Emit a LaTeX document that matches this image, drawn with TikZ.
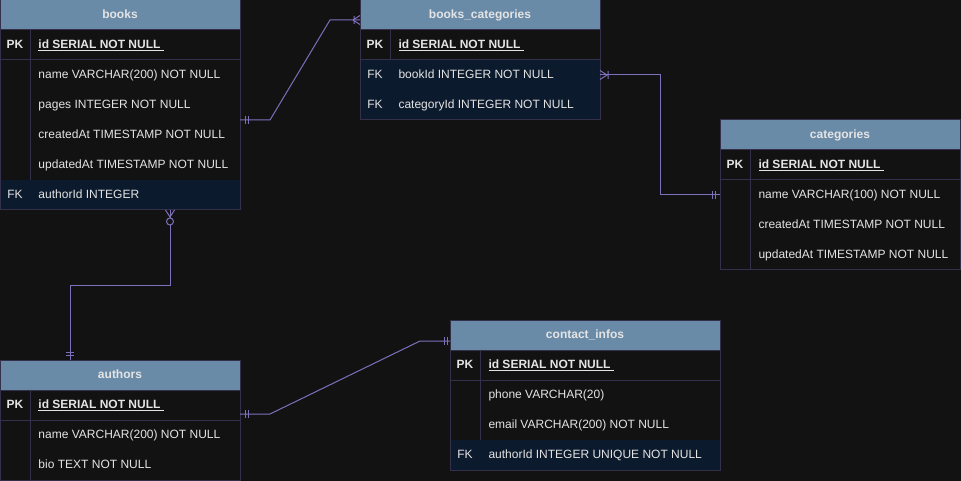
\documentclass[tikz,border=0pt]{standalone}
\usepackage{fontspec}
\setmainfont{Liberation Sans}
\usepackage{tikz}
\usetikzlibrary{calc}
\definecolor{canvas}{HTML}{121212}
\definecolor{hdrfill}{HTML}{6A8BA8}
\definecolor{hdrtext}{HTML}{E4E4E4}
\definecolor{gridline}{HTML}{34304C}
\definecolor{fkfill}{HTML}{0C1A2D}
\definecolor{rowtext}{HTML}{E4E4E4}
\definecolor{relcolor}{HTML}{7E70BC}

\begin{document}
\begin{tikzpicture}[x=0.75pt,y=-0.75pt,line width=0.75pt,
		tbl/.style={draw=gridline},
		txt/.style={text=rowtext,inner sep=0,text height=6.6pt,text depth=1.9pt},
		hdr/.style={txt,text=hdrtext,font=\fontsize{9}{11}\selectfont\bfseries},
		pkkey/.style={txt,font=\fontsize{9}{11}\selectfont\bfseries},
		fkkey/.style={txt,font=\fontsize{9}{11}\selectfont},
		pkcol/.style={txt,font=\fontsize{9}{11}\selectfont\bfseries,anchor=west},
		col/.style={txt,font=\fontsize{9}{11}\selectfont,anchor=west},
		relline/.style={draw=relcolor}]
	\fill[canvas] (0,0) rectangle (961,481);
	\useasboundingbox (0,0) rectangle (961,481);
	% % % % % % % % % % % % % % %
	%books
	\fill[fkfill] (0,180) rectangle (240,210);
	\fill[hdrfill] (0,0) rectangle (240,30);
	\draw[tbl] (0,0) rectangle (240,210);
	\draw[tbl] (0,30) -- (240,30) (0,60) -- (240,60) (30,30) -- (30,180);
	\node[hdr] (books) at (120,15) {books};
	\node[pkkey] (books-pk) at (15,45) {PK};
	\node[pkcol] (books-id) at (38,45) {\underline{id SERIAL NOT NULL\ }};
	\foreach \i/\t in {1/name VARCHAR(200) NOT NULL,2/pages INTEGER NOT NULL,3/createdAt TIMESTAMP NOT NULL,4/updatedAt TIMESTAMP NOT NULL} {
		\node[col] (books-\i) at (38,45+30*\i) {\t};
	}
	\node[fkkey] (books-fk) at (15,195) {FK};
	\node[col] (books-author) at (38,195) {authorId INTEGER};
	%books_categories
	\fill[fkfill] (360,60) rectangle (600,120);
	\fill[hdrfill] (360,0) rectangle (600,30);
	\draw[tbl] (360,0) rectangle (600,120);
	\draw[tbl] (360,30) -- (600,30) (360,60) -- (600,60) (390,30) -- (390,60);
	\node[hdr] (bookscat) at (480,15) {books\_categories};
	\node[pkkey] (bookscat-pk) at (375,45) {PK};
	\node[pkcol] (bookscat-id) at (398,45) {\underline{id SERIAL NOT NULL\ }};
	\node[fkkey] (bookscat-fk1) at (375,75) {FK};
	\node[col] (bookscat-book) at (398,75) {bookId INTEGER NOT NULL};
	\node[fkkey] (bookscat-fk2) at (375,105) {FK};
	\node[col] (bookscat-cat) at (398,105) {categoryId INTEGER NOT NULL};
	%categories
	\fill[hdrfill] (720,120) rectangle (960,150);
	\draw[tbl] (720,120) rectangle (960,270);
	\draw[tbl] (720,150) -- (960,150) (720,180) -- (960,180) (750,150) -- (750,270);
	\node[hdr] (categories) at (840,135) {categories};
	\node[pkkey] (categories-pk) at (735,165) {PK};
	\node[pkcol] (categories-id) at (758,165) {\underline{id SERIAL NOT NULL\ }};
	\foreach \i/\t in {1/name VARCHAR(100) NOT NULL,2/createdAt TIMESTAMP NOT NULL,3/updatedAt TIMESTAMP NOT NULL} {
		\node[col] (categories-\i) at (758,165+30*\i) {\t};
	}
	%authors
	\fill[hdrfill] (0,360) rectangle (240,390);
	\draw[tbl] (0,360) rectangle (240,480);
	\draw[tbl] (0,390) -- (240,390) (0,420) -- (240,420) (30,390) -- (30,480);
	\node[hdr] (authors) at (120,375) {authors};
	\node[pkkey] (authors-pk) at (15,405) {PK};
	\node[pkcol] (authors-id) at (38,405) {\underline{id SERIAL NOT NULL\ }};
	\node[col] (authors-1) at (38,435) {name VARCHAR(200) NOT NULL};
	\node[col] (authors-2) at (38,465) {bio TEXT NOT NULL};
	%contact_infos
	\fill[fkfill] (450,440) rectangle (720,470);
	\fill[hdrfill] (450,320) rectangle (720,350);
	\draw[tbl] (450,320) rectangle (720,470);
	\draw[tbl] (450,350) -- (720,350) (450,380) -- (720,380) (480,350) -- (480,440);
	\node[hdr] (contacts) at (585,335) {contact\_infos};
	\node[pkkey] (contacts-pk) at (465,365) {PK};
	\node[pkcol] (contacts-id) at (488,365) {\underline{id SERIAL NOT NULL\ }};
	\node[col] (contacts-1) at (488,395) {phone VARCHAR(20)};
	\node[col] (contacts-2) at (488,425) {email VARCHAR(200) NOT NULL};
	\node[fkkey] (contacts-fk) at (465,455) {FK};
	\node[col] (contacts-author) at (488,455) {authorId INTEGER UNIQUE NOT NULL};
	% % % % % % % % % % % % % % %
	%连接点
	\coordinate (bkR) at (240,120);
	\coordinate (bcL) at (360,20);
	\coordinate (bcR) at (600,75);
	\coordinate (ctL) at (720,195);
	\coordinate (bkB) at (170,210);
	\coordinate (auT) at (70,360);
	\coordinate (auR) at (240,414);
	\coordinate (ciL) at (450,341);
	%books -- books_categories
	\draw[relline] (bkR) -- ++(30,0) -- ($(bcL)+(-30,0)$) -- (bcL);
	\draw[relline] ($(bkR)+(5,-4)$) -- ++(0,8) ($(bkR)+(8,-4)$) -- ++(0,8);
	\draw[relline] ($(bcL)+(-7,0)$) -- ($(bcL)+(0,-4.5)$) ($(bcL)+(-7,0)$) -- ($(bcL)+(0,4.5)$) ($(bcL)+(-6,-4)$) -- ++(0,8);
	%books_categories -- categories
	\draw[relline] (bcR) -- ++(60,0) |- (ctL);
	\draw[relline] ($(bcR)+(7,0)$) -- ($(bcR)+(0,-4.5)$) ($(bcR)+(7,0)$) -- ($(bcR)+(0,4.5)$) ($(bcR)+(8,-4)$) -- ++(0,8);
	\draw[relline] ($(ctL)+(-8,-4)$) -- ++(0,8) ($(ctL)+(-5,-4)$) -- ++(0,8);
	%books -- authors
	\draw[relline] (bkB) -- ++(0,76) -| (auT);
	\draw[relline] ($(bkB)+(-4.5,0)$) -- ($(bkB)+(0,7)$) -- ($(bkB)+(4.5,0)$);
	\draw[relline,fill=canvas] ($(bkB)+(0,11.5)$) circle (3.5);
	\draw[relline] ($(auT)+(-4,-8)$) -- ++(8,0) ($(auT)+(-4,-5)$) -- ++(8,0);
	%authors -- contact_infos
	\draw[relline] (auR) -- ++(30,0) -- ($(ciL)+(-30,0)$) -- (ciL);
	\draw[relline] ($(auR)+(5,-4)$) -- ++(0,8) ($(auR)+(8,-4)$) -- ++(0,8);
	\draw[relline] ($(ciL)+(-6,-4)$) -- ++(0,8) ($(ciL)+(-3,-4)$) -- ++(0,8);
\end{tikzpicture}
\end{document}
